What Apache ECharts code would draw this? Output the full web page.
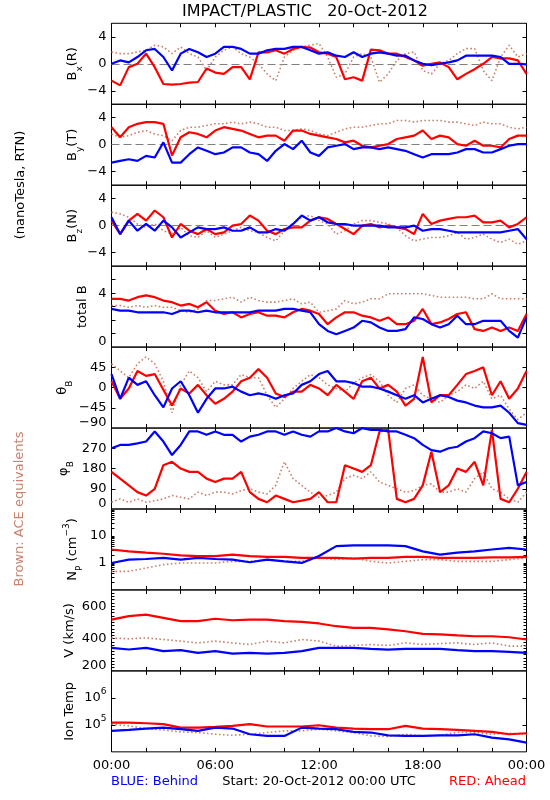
<!DOCTYPE html>
<html><head><meta charset="utf-8">
<script src="https://cdn.jsdelivr.net/npm/echarts@6/dist/echarts.min.js"></script>
<style>html,body{margin:0;padding:0;background:#fff}#c{width:550px;height:800px}</style>
</head><body><div id="c"></div>
<script>
// ---------------- DATA ----------------
const hoursHalf=[0,0.5,1,1.5,2,2.5,3,3.5,4,4.5,5,5.5,6,6.5,7,7.5,8,8.5,9,9.5,10,10.5,11,11.5,12,12.5,13,13.5,14,14.5,15,15.5,16,16.5,17,17.5,18,18.5,19,19.5,20,20.5,21,21.5,22,22.5,23,23.5,24];
const hoursFull=[0,1,2,3,4,5,6,7,8,9,10,11,12,13,14,15,16,17,18,19,20,21,22,23,24];
const xTickHours=[0,6,12,18,24];
const xTickLabels=['00:00','06:00','12:00','18:00','00:00'];

const bxRed=[-2.5,-3.2,-0.5,0,1.5,-0.5,-3,-3.1,-3,-2.8,-2.7,-0.7,-1.3,-1.5,-0.5,-0.5,-2.3,1.7,1.7,2,1.5,2.2,2.5,2.4,1.7,1.5,1,-2.3,-2,-2.5,2.1,2,1.5,1.5,1,0.5,-0.3,0,0.2,-0.5,-2.3,-1.5,-0.8,0,1,0.8,0.8,0.5,-1.5];
const bxBlue=[0,0.5,0.2,1,2,2.2,1,-1,1.5,2.2,1.7,1,1.5,2.5,2.5,2.2,1.5,1.5,2,2.2,2.2,2.5,2.5,2,1.5,1.7,1.2,1,1.7,1,1.5,1.7,1.5,1.2,1.2,0.5,0,-0.2,0,0.2,0.5,1.2,1.2,1.2,1.2,1,0,0,-0.1];
const bxBrown=[1.75,1.5,1.5,1.75,2,2.75,2.5,1.5,2.5,1.5,1,-1,1,2,2.5,1.5,1,0,-1.5,-2.5,1,2,2.5,2.75,3,1,-2,-1.5,1,1.5,1,-2.75,-1.5,0.5,1.5,1.75,-1,-1.5,0,0.5,1.5,2.25,2.25,-1,-2.5,1,2.75,1,1.5];

const byRed=[2.6,1.1,2.6,3.1,3.35,3.35,3.1,-1.6,1.1,1.85,1.6,1.1,2.1,2.6,2.35,2.1,1.6,1.1,1.35,1.35,0.6,2.1,2.1,1.6,1.35,1.1,0.85,0.35,0.6,-0.15,-0.4,-0.15,0.1,0.85,1.1,1.35,2.1,0.85,1.35,1.1,0.1,-0.15,0.6,-0.15,-0.15,-0.4,0.85,1.35,1.35];
const byBlue=[-2.65,-2.4,-2.15,-2.4,-1.65,-1.9,0.35,-2.65,-2.65,-1.4,-0.4,-0.9,-1.4,-1.15,-0.4,-0.4,-1.15,-1.4,-2.4,-0.9,0.1,-0.65,0.6,-1.15,-1.65,-0.4,-0.15,0.1,-0.65,-0.4,-0.4,-0.65,-0.4,-0.65,-0.9,-1.4,-1.9,-1.4,-1.4,-1.4,-1.15,-0.65,-0.65,-1.15,-1.15,-0.65,-0.15,0.1,0.1];
const byBrown=[1.6,1.1,1.35,1.85,2.1,1.6,1.35,0.6,2.1,2.6,2.6,2.85,3.1,3.1,3.35,3.1,3.35,3.1,2.6,2.6,2.1,2.1,2.35,2.1,1.6,1.35,1.85,2.35,2.6,2.6,2.85,3.1,3.1,3.6,3.6,3.35,3.6,3.6,3.6,3.35,3.35,3.1,2.85,3.35,3.1,3.1,2.6,2.35,2.6];

const bzRed=[0.75,-1.25,0.75,1.75,0.75,2.25,1.25,-1.75,0.25,-0.75,-1.25,-0.5,-1.25,-1,0,0.25,1.5,0.75,-0.75,-1.25,-0.5,-0.25,-0.25,0.75,1.25,1,0.25,-0.5,-1.25,0,0.25,-0.25,0,-0.25,-0.5,-1.25,1.75,0.25,0.75,1,1.25,1.25,1.5,0.5,0.5,0.75,-0.25,0.25,1.25];
const bzBlue=[1.25,-1.25,0.75,-0.75,0.25,-0.75,0.75,-0.25,-1.75,-1,-0.25,-0.5,-0.5,-0.25,-0.75,-0.75,-0.25,-1,-1,-0.5,-0.75,0.25,1.5,0.75,1.25,0.5,0.25,0.25,0,0,0,0,-0.25,-0.25,-0.25,0,-0.75,-0.5,-0.5,-0.75,-1,-1,-1,-1,-1,-1,-0.75,-0.5,-2];
const bzBrown=[2,1.75,1.25,0.25,-0.25,0.25,-0.75,-1.25,-0.25,-1.5,-1.75,-0.75,-1.75,-1.25,-0.75,-0.25,-0.75,-1,-1.75,-2.25,-0.75,0.25,1.25,1.5,0.75,0.25,-1.25,-0.75,0.25,0.75,0.75,0.5,0.25,-0.25,-1.5,-2.25,-2,-1.75,-1.75,-1.5,-1,-2,-1.75,-1.25,-2,-2.5,-2,-2.75,-2.25];

const btRed=[3.58,3.58,3.45,3.7,3.83,3.7,3.45,3.33,3.08,3.2,2.95,3.33,2.7,2.45,2.58,2.2,2.45,2.58,2.33,2.33,2.2,2.58,2.83,2.7,2.45,1.7,2.2,2.58,2.58,2.33,2.2,1.95,2.2,1.7,1.7,1.95,2.83,1.7,1.83,2.08,2.45,2.58,1.33,1.2,1.45,1.2,1.45,1.2,2.45];
const btBlue=[2.83,2.7,2.7,2.58,2.58,2.58,2.58,2.45,2.7,2.7,2.58,2.7,2.58,2.58,2.58,2.58,2.58,2.7,2.7,2.7,2.83,2.83,2.7,2.58,1.7,1.2,0.95,1.2,1.45,1.95,1.83,1.45,1.2,1.2,1.33,2.2,2.08,1.7,1.45,1.7,2.33,1.7,1.7,1.95,1.95,1.95,1.2,0.7,2.2];
const btBrown=[3.08,3.08,2.95,3.08,2.95,3.08,2.95,2.95,2.7,2.58,2.83,3.45,3.45,3.58,3.7,3.33,3.7,3.45,3.33,3.33,3.45,3.58,3.2,3.33,2.58,2.7,2.83,3.45,3.2,3.33,3.58,3.58,3.95,3.95,3.95,3.95,3.95,3.83,3.7,3.7,3.7,3.7,3.58,3.58,3.95,3.58,3.58,3.58,3.58];

const thRed=[14,-25,-2,37,26,30,-5,-40,-2,-13,6,-17,-36,-25,-9,14,22,41,22,-13,-21,-9,-9,6,-2,-17,6,-9,-25,14,22,-2,6,-9,-40,-25,68,-33,-17,-17,6,30,37,45,-17,14,-25,-2,37];
const thBlue=[30,-25,22,6,14,-17,-44,-2,14,-17,-56,-25,-2,-2,2,-9,-17,-13,-17,-25,-17,-13,6,14,30,37,14,14,10,2,2,-2,-9,-17,-25,-17,-33,-25,-17,-21,-29,-33,-40,-44,-44,-40,-56,-79,-83];
const thBrown=[53,37,22,53,68,53,14,-56,6,37,22,-9,14,6,6,29,22,22,-17,-44,-25,-2,14,29,22,6,-2,-9,10,22,29,14,-17,-33,-2,6,-17,-25,-33,-17,-9,6,-2,14,-25,-17,-48,-71,-56];

const phRed=[165,135,105,75,60,90,195,210,180,165,165,135,120,135,135,165,75,45,30,60,45,30,37,45,75,30,30,195,180,165,195,345,352,45,30,45,105,255,75,105,180,165,210,105,352,45,30,90,165];
const phBlue=[270,285,285,292,300,345,300,240,285,345,345,330,345,330,330,300,322,330,345,345,330,345,330,322,345,345,360,345,337,360,352,352,345,345,330,315,285,262,255,270,277,300,315,345,337,315,322,105,120];
const phBrown=[30,45,30,45,30,37,45,60,52,45,75,60,75,75,67,82,90,75,67,105,210,135,105,75,52,60,75,135,150,135,165,120,105,90,75,82,105,112,75,75,90,75,135,165,90,75,45,30,75];

const npRed=[3.16,2.7,2.4,2.2,1.9,1.8,1.8,2.05,1.8,1.68,1.68,1.54,1.54,1.54,1.45,1.54,1.54,1.68,1.68,1.54,1.54,1.54,1.6,1.6,1.68];
const npBlue=[1.0,1.33,1.4,1.54,1.33,1.54,1.4,1.33,1.06,1.33,1.15,1.0,1.8,4.2,4.5,4.5,4.5,4.2,2.7,2.05,2.4,2.7,3.16,3.65,3.16];
const npBrown=[0.49,0.49,0.65,0.87,1.0,1.0,1.0,1.15,1.15,1.33,1.15,1.15,1.54,1.33,1.54,1.15,1.0,1.15,1.33,1.33,1.15,1.15,1.15,1.33,1.54];

const vRed=[517,538,548,528,507,507,522,513,517,517,507,503,493,476,466,466,456,445,429,425,419,414,414,408,394];
const vBlue=[342,332,342,322,328,311,322,307,311,307,311,322,342,342,342,336,332,336,336,336,328,322,322,317,311];
const vBrown=[404,398,404,394,384,373,384,373,363,384,373,394,384,353,357,363,357,373,363,369,373,363,373,353,353];

const tRed=[1.22e5,1.22e5,1.15e5,1.06e5,7.9e4,7.9e4,8.4e4,9.2e4,1.06e5,8.7e4,8.7e4,8.7e4,9.7e4,7.9e4,7.3e4,6.9e4,6.9e4,9.2e4,7.3e4,6.9e4,6.5e4,6.0e4,5.5e4,4.5e4,4.9e4];
const tBlue=[6.0e4,6.5e4,7.3e4,7.9e4,6.9e4,6.0e4,7.9e4,7.3e4,4.5e4,3.9e4,3.9e4,7.9e4,7.3e4,6.9e4,5.5e4,5.2e4,4.1e4,3.9e4,3.9e4,4.1e4,4.1e4,4.5e4,3.35e4,2.9e4,2.2e4];
const tBrown=[1.06e5,9.2e4,7.3e4,6.5e4,5.5e4,5.2e4,4.5e4,4.1e4,4.5e4,5.2e4,6.0e4,6.0e4,6.9e4,6.0e4,5.2e4,3.9e4,3.7e4,4.5e4,3.9e4,4.1e4,5.2e4,5.2e4,4.5e4,4.9e4,4.5e4];

const bfLabels=[-4,0,4];
const btLabels=[0,4];
const thLabels=[-90,-45,0,45];
const phLabels=[0,90,180,270];
const npLabels=[1,10];
const vLabels=[200,400,600];
const tLabels=[1e5,1e6];

// ---------------- STYLE / LAYOUT ----------------
const FONT="'DejaVu Sans', sans-serif";
const RED='#ff0000', BLUE='#0000ff', BROWN='#c8826e';
const TOP=23.3, H=80.95, LEFT=111.5, W=415;

const npTicks=[];
[0.1,1,10].forEach(d=>{for(let k=2;k<=9;k++) npTicks.push(+(d*k).toPrecision(3));});
npTicks.push(1,10);
const vTicks=[];
for(let v=220; v<700; v+=20) vTicks.push(v);

const minus=v=>v<0?'\u2212'+Math.abs(v):String(v);

const panels=[
 {xs:hoursHalf,red:bxRed,blue:bxBlue,brown:bxBrown,type:'value',min:-6,max:6,labels:bfLabels,ticks:bfLabels,zero:true,name:'{a|B}{s|x}{a|(R)}',nx:73},
 {xs:hoursHalf,red:byRed,blue:byBlue,brown:byBrown,type:'value',min:-6,max:6,labels:bfLabels,ticks:bfLabels,zero:true,name:'{a|B}{s|y}{a|(T)}',nx:73},
 {xs:hoursHalf,red:bzRed,blue:bzBlue,brown:bzBrown,type:'value',min:-6,max:6,labels:bfLabels,ticks:bfLabels,zero:true,name:'{a|B}{s|z}{a|(N)}',nx:73},
 {xs:hoursHalf,red:btRed,blue:btBlue,brown:btBrown,type:'value',min:0,max:6,labels:btLabels,ticks:[1,2,3,4,5],name:'{a|total B}',nx:83,minBottom:true},
 {xs:hoursHalf,red:thRed,blue:thBlue,brown:thBrown,type:'value',min:-90,max:90,labels:thLabels,ticks:[-45,0,45],name:'{a|\u03b8}{s|B}',nx:63,minBottom:true},
 {xs:hoursHalf,red:phRed,blue:phBlue,brown:phBrown,type:'value',min:0,max:360,labels:phLabels,ticks:[90,180,270],name:'{a|\u03c6}{s|B}',nx:64,minBottom:true},
 {xs:hoursFull,red:npRed,blue:npBlue,brown:npBrown,type:'log',min:0.1,max:100,labels:npLabels,ticks:npTicks,tickLen:3,name:'{a|N}{s|P}{a| (cm}{p|\u22123}{a|)}',nx:73},
 {xs:hoursFull,red:vRed,blue:vBlue,brown:vBrown,type:'value',min:200,max:700,labels:vLabels,ticks:vTicks.concat([400,600]),tickLen:3,name:'{a|V (km/s)}',nx:70,minBottom:true},
 {xs:hoursFull,red:tRed,blue:tBlue,brown:tBrown,type:'log',min:1e4,max:1e7,labels:tLabels,ticks:tLabels,name:'{a|Ion Temp}',nx:70,
   fmt:v=>'{a|10}{p|'+Math.round(Math.log10(v))+'}'}
];

const richAxis={a:{fontSize:13,fontFamily:FONT,color:'#000',lineHeight:22,verticalAlign:'middle'},
                p:{fontSize:9,fontFamily:FONT,color:'#000',lineHeight:9,verticalAlign:'top'}};
function richG(color){return {
  a:{fontSize:13,fontFamily:FONT,fill:color,lineHeight:22,verticalAlign:'middle'},
  s:{fontSize:9,fontFamily:FONT,fill:color,lineHeight:9,verticalAlign:'bottom'},
  p:{fontSize:9,fontFamily:FONT,fill:color,lineHeight:9,verticalAlign:'top'}};}

const grids=[],xAxes=[],yAxes=[],series=[],graphics=[];
const tickStyle={color:'#000',width:1};
panels.forEach((p,i)=>{
  const top=TOP+i*H;
  const last=i===panels.length-1;
  grids.push({left:LEFT,top:top,width:W,height:H,show:true,borderColor:'#000',borderWidth:1,backgroundColor:'transparent'});
  xAxes.push({gridIndex:i,type:'value',min:0,max:24,interval:2,position:'bottom',
    axisLine:{show:false,onZero:false},splitLine:{show:false},
    axisTick:{show:true,inside:true,length:4,lineStyle:tickStyle},
    axisLabel:{show:last,customValues:xTickHours,formatter:v=>xTickLabels[xTickHours.indexOf(v)],color:'#000',fontFamily:FONT,fontSize:13,margin:7}});
  xAxes.push({gridIndex:i,type:'value',min:0,max:24,interval:2,position:'top',
    axisLine:{show:false,onZero:false},splitLine:{show:false},
    axisTick:{show:true,inside:true,length:4,lineStyle:tickStyle},axisLabel:{show:false}});
  const base={gridIndex:i,type:p.type,min:p.min,max:p.max,splitLine:{show:false},axisLine:{show:false,onZero:false}};
  if(p.type==='log') base.logBase=10;
  yAxes.push(Object.assign({},base,{position:'left',
    axisTick:{show:true,inside:true,length:p.tickLen||4,customValues:p.ticks,lineStyle:tickStyle},
    axisLabel:{show:true,customValues:p.labels,formatter:p.fmt||minus,color:'#000',fontFamily:FONT,fontSize:13,margin:5,
      lineHeight:10,rich:p.fmt?richAxis:undefined,verticalAlignMinLabel:p.minBottom?'bottom':undefined}}));
  yAxes.push(Object.assign({},base,{position:'right',
    axisTick:{show:true,inside:true,length:p.tickLen||4,customValues:p.ticks,lineStyle:tickStyle},
    axisLabel:{show:false}}));
  const mk=(arr)=>p.xs.map((h,k)=>[h,arr[k]]);
  const brownS={type:'line',xAxisIndex:2*i,yAxisIndex:2*i,data:mk(p.brown),showSymbol:false,symbol:'none',
    lineStyle:{color:BROWN,width:1.6,type:[1.6,2.4]},z:2,animation:false,silent:true};
  if(p.zero){brownS.markLine={silent:true,symbol:'none',label:{show:false},animation:false,
     lineStyle:{color:'#808080',type:[8,4],width:1},data:[{yAxis:0}],z:1};}
  series.push(brownS);
  series.push({type:'line',xAxisIndex:2*i,yAxisIndex:2*i,data:mk(p.red),showSymbol:false,symbol:'none',
    lineStyle:{color:RED,width:2.2},z:3,animation:false,silent:true});
  series.push({type:'line',xAxisIndex:2*i,yAxisIndex:2*i,data:mk(p.blue),showSymbol:false,symbol:'none',
    lineStyle:{color:BLUE,width:2.2},z:4,animation:false,silent:true});
  graphics.push({type:'text',x:p.nx,y:top+H/2,rotation:Math.PI/2,silent:true,
    style:{text:p.name,rich:richG('#000'),fill:'#000',fontFamily:FONT,fontSize:13,align:'center',verticalAlign:'middle'}});
});

graphics.push({type:'text',x:305,y:12,silent:true,style:{text:'IMPACT/PLASTIC   20-Oct-2012',fill:'#000',fontFamily:FONT,fontSize:16,align:'center',verticalAlign:'middle'}});
graphics.push({type:'text',x:21,y:185,rotation:Math.PI/2,silent:true,style:{text:'(nanoTesla, RTN)',fill:'#000',fontFamily:FONT,fontSize:13,align:'center',verticalAlign:'middle'}});
graphics.push({type:'text',x:20,y:509,rotation:Math.PI/2,silent:true,style:{text:'Brown: ACE equivalents',fill:BROWN,fontFamily:FONT,fontSize:13,align:'center',verticalAlign:'middle'}});
graphics.push({type:'text',x:111,y:782,silent:true,style:{text:'BLUE: Behind',fill:BLUE,fontFamily:FONT,fontSize:13,align:'left',verticalAlign:'middle'}});
graphics.push({type:'text',x:319,y:782,silent:true,style:{text:'Start: 20-Oct-2012 00:00 UTC',fill:'#000',fontFamily:FONT,fontSize:13,align:'center',verticalAlign:'middle'}});
graphics.push({type:'text',x:526,y:782,silent:true,style:{text:'RED: Ahead',fill:RED,fontFamily:FONT,fontSize:13,align:'right',verticalAlign:'middle'}});

const chart=echarts.init(document.getElementById('c'),null,{renderer:'canvas'});
chart.setOption({animation:false,backgroundColor:'#fff',grid:grids,xAxis:xAxes,yAxis:yAxes,series:series,graphic:graphics});
</script></body></html>
